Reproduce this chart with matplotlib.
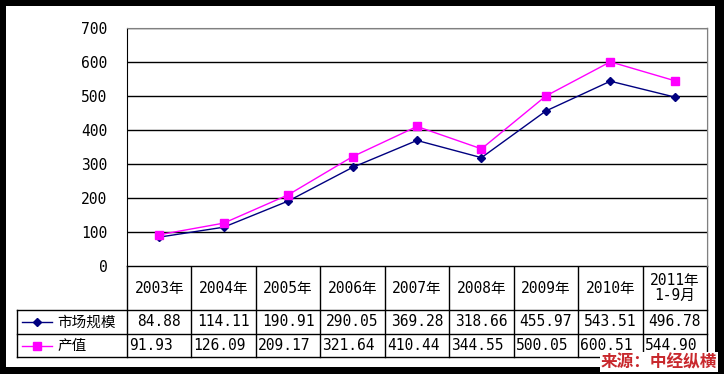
import numpy as np
import matplotlib
matplotlib.use('Agg')
import matplotlib.pyplot as plt
from matplotlib.patches import Rectangle

plt.rcParams['font.family'] = ['DejaVu Sans Mono', 'Noto Sans CJK SC', 'DejaVu Sans']

# data
years = ['2003年', '2004年', '2005年', '2006年', '2007年', '2008年', '2009年', '2010年', '2011年\n1-9月']
market = [84.88, 114.11, 190.91, 290.05, 369.28, 318.66, 455.97, 543.51, 496.78]
output = [91.93, 126.09, 209.17, 321.64, 410.44, 344.55, 500.05, 600.51, 544.90]
market_lbl = ['84.88', '114.11', '190.91', '290.05', '369.28', '318.66', '455.97', '543.51', '496.78']
output_lbl = ['91.93', '126.09', '209.17', '321.64', '410.44', '344.55', '500.05', '600.51', '544.90']
series_names = ['市场规模', '产值']

W, H = 724, 374
fig = plt.figure(figsize=(W / 100, H / 100), dpi=100)
fig.patch.set_facecolor('black')

# overlay in pixel coords for background / table
ov = fig.add_axes([0, 0, 1, 1])
ov.set_xlim(0, W)
ov.set_ylim(H, 0)
ov.axis('off')
ov.add_patch(Rectangle((6, 6), 709, 361, facecolor='white', edgecolor='none', zorder=0))

# plot area
x0, x1, ytop, ybot = 127, 707, 28, 266
ax = fig.add_axes([x0 / W, (H - ybot) / H, (x1 - x0) / W, (ybot - ytop) / H])
ax.set_facecolor('white')
n = len(years)
xs = np.arange(n) + 0.5
ax.plot(xs, market, color='#000080', lw=1, marker='D', ms=4.5, zorder=3)
ax.plot(xs, output, color='#ff00ff', lw=1, marker='s', ms=6, zorder=3)
ax.set_xlim(0, n)
ax.set_ylim(0, 700)
ax.set_yticks(range(0, 701, 100))
ax.yaxis.grid(True, color='black', lw=1)
ax.set_axisbelow(True)
ax.set_xticks([])
ax.tick_params(axis='y', length=0, pad=14, labelsize=10.5)
ax.spines['left'].set_color('black')
ax.spines['top'].set_color('#808080')
ax.spines['right'].set_color('#808080')
ax.spines['bottom'].set_visible(False)

# data table
cw = (x1 - x0) / n
r0, r1, r2, r3 = 266, 310, 334, 357
lk = dict(color='black', lw=1, zorder=2)
ov.plot([x0, x1], [r0, r0], **lk)
for yy in (r1, r2, r3):
    ov.plot([17, x1], [yy, yy], **lk)
for k in range(n + 1):
    ov.plot([x0 + k * cw] * 2, [r0, r3], **lk)
ov.plot([x1, x1], [ytop, r0], color='#808080', lw=1, zorder=2)
ov.plot([17, 17], [r1, r3], **lk)

fs = 10.5
for k in range(n):
    cx = x0 + (k + 0.5) * cw
    ov.text(cx, (r0 + r1) / 2, years[k], ha='center', va='center', fontsize=fs,
            linespacing=1.0)
    ov.text(cx, (r1 + r2) / 2, market_lbl[k], ha='center', va='center', fontsize=fs)
    ov.text(x0 + k * cw + 2, (r2 + r3) / 2, output_lbl[k], ha='left', va='center', fontsize=fs)

# legend keys in table
ov.plot([22, 37, 52], [(r1 + r2) / 2] * 3, color='#000080', lw=1, marker='D', ms=4.5,
        markevery=[1], zorder=3)
ov.plot([22, 37, 52], [(r2 + r3) / 2] * 3, color='#ff00ff', lw=1, marker='s', ms=6,
        markevery=[1], zorder=3)
ov.text(57, (r1 + r2) / 2, series_names[0], ha='left', va='center', fontsize=fs)
ov.text(57, (r2 + r3) / 2, series_names[1], ha='left', va='center', fontsize=fs)

# source
ov.text(717, 362, '来源：中经纵横', ha='right', va='center', fontsize=12,
        family=['Noto Sans CJK SC', 'DejaVu Sans'],
        color='#c8282d', fontweight='bold', zorder=5,
        bbox=dict(facecolor='white', edgecolor='none', pad=0.5))

fig.savefig('out.png', dpi=100, facecolor=fig.get_facecolor())
